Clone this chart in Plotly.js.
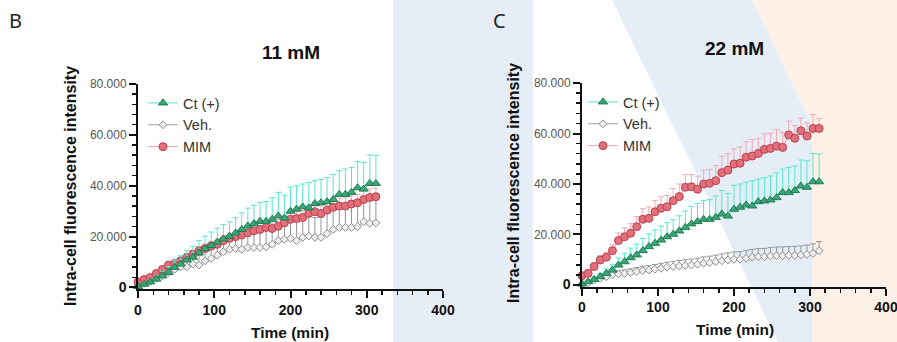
<!DOCTYPE html>
<html>
<head>
<meta charset="utf-8">
<script src="https://cdn.plot.ly/plotly-3.0.1.min.js"></script>
<style>html,body{margin:0;padding:0;background:#fff;}#chart{width:897px;height:342px;}</style>
</head>
<body>
<div id="chart"></div>
<script>
// ---------------- DATA ----------------
const timeMin = [0,8,16,24,32,40,48,56,64,72,80,88,96,104,112,120,128,136,144,152,160,168,176,184,192,200,208,216,224,232,240,248,256,264,272,280,288,296,304,312];

// Ct (+) — same curve shown in both panels
const ctMean = [400,1300,2200,3300,4600,5900,7900,9200,10800,11900,13600,15200,16500,17800,19100,20100,21400,22800,24200,25100,26000,26000,26800,28100,27300,30000,30800,31700,31300,33000,33300,33700,34600,36600,36600,37400,39200,38700,40900,40900];
const ctErr  = [300,600,900,1300,1800,2300,2800,3300,3800,4300,4800,5000,5300,5500,5600,5700,6000,6500,7000,7200,7500,7800,8500,9300,9000,9500,9200,9000,10000,9000,9200,9500,9800,9300,10000,9800,10300,10500,11200,11000];

// Panel B (11 mM)
const vehMeanB = [900,1600,2200,3500,4500,5800,7100,8100,8100,9200,8800,10500,11400,12700,14000,15000,15300,15000,15700,15700,15700,16000,17000,18400,18900,19300,18400,19700,20200,19700,19700,21200,22800,23600,23600,23600,23900,25800,25200,25400];
const vehErrB  = [400,600,900,1300,1700,2100,2500,2800,3200,3500,3800,4000,4300,4600,4900,5200,5500,5800,6000,6300,6500,6700,6900,7000,7200,7300,7500,7600,7700,7800,8000,8100,8300,8400,8600,8800,9000,9200,9300,9500];
const mimMeanB = [2200,3100,3900,5500,7100,8800,9400,10500,11800,13100,14400,15300,16300,17000,18400,19300,20000,20600,21500,22300,22800,23600,23200,24100,25400,26800,27100,27500,29100,29800,29100,30400,31500,32000,32000,32800,33300,34600,35400,35700];
const mimErrB  = [500,700,800,1000,1100,1200,1300,1400,1500,1600,1700,1800,1900,2000,2000,2100,2200,2200,2300,2400,2400,2500,2600,2600,2700,2700,2800,2800,2900,2900,3000,3000,3100,3100,3200,3200,3300,3300,3400,3400];

// Panel C (22 mM)
const vehMeanC = [400,900,2000,2600,3300,4000,4400,4600,4900,5300,5700,5900,6200,6600,7000,7300,7500,7700,7900,8200,8600,8800,9200,9600,9900,10200,10200,10600,11000,11200,11200,11500,11600,11600,11700,11700,11900,12100,12500,13600];
const vehErrC  = [300,500,700,900,1000,1200,1300,1400,1500,1600,1700,1800,1900,2000,2000,2100,2200,2300,2300,2400,2500,2600,2600,2700,2800,2900,3000,3100,3100,3200,3300,3300,3400,3500,3500,3600,3600,3700,3800,3600];
const mimMeanC = [3700,4600,7300,9900,11000,13600,17600,19100,20500,23100,26000,26400,29000,30400,31000,33400,35000,38700,38900,37900,40000,40300,41300,44500,45500,47900,48200,50600,51100,52100,53700,54100,55000,54500,59400,58100,61100,59000,62000,62000];
const mimErrC  = [800,1000,1500,1800,2000,2500,3000,3500,3800,4000,4200,4500,4500,4500,4500,4800,5000,5000,4800,5200,5500,5500,6000,6500,6500,6000,6500,6200,6500,6000,6200,6000,6500,6000,5500,5000,5000,5200,5500,4000];

const seriesNames = ['Ct (+)', 'Veh.', 'MIM'];
const xTickVals = [0,100,200,300,400];
const xTickText = ['0','100','200','300','400'];
const yTickVals = [0,20000,40000,60000,80000];
const yTickText = ['<span style="font-size:14px;color:#111;font-weight:bold">0</span>','20.000','40.000','60.000','80.000'];

// ---------------- STYLE ----------------
const W = 897, H = 342;
const px = x => x / W;
const py = y => 1 - y / H;
const FONT = 'Liberation Sans, Arial, sans-serif';

const styles = {
  ct:  {symbol:'triangle-up', size:8, fill:'#3aa876', edge:'#1f7a52', line:'#55e3c8', err:'#55e8cc'},
  veh: {symbol:'diamond', size:6, fill:'#f0f0f0', edge:'#8c8c8c', line:'#a0a0a0', err:'#959595'},
  mim: {symbol:'circle', size:8, fill:'#e36f7a', edge:'#b6404d', line:'#f2a3ab', err:'#f2aab2'}
};

function trace(name, y, err, st, xa, ya, leg, rank) {
  return {
    type:'scatter', mode:'lines+markers', name:name,
    x: timeMin, y: y,
    xaxis: xa, yaxis: ya, legend: leg, legendrank: rank,
    cliponaxis: false,
    line: {color: st.line, width: 1},
    marker: {symbol: st.symbol, size: st.size, color: st.fill, line: {color: st.edge, width: 1}},
    error_y: {type:'data', symmetric:false, array: err, arrayminus: err.map(() => 0),
              color: st.err, thickness: 1, width: 3}
  };
}

const data = [
  trace(seriesNames[1], vehMeanB, vehErrB, styles.veh, 'x', 'y', 'legend', 2),
  trace(seriesNames[2], mimMeanB, mimErrB, styles.mim, 'x', 'y', 'legend', 3),
  trace(seriesNames[0], ctMean, ctErr, styles.ct, 'x', 'y', 'legend', 1),
  trace(seriesNames[1], vehMeanC, vehErrC, styles.veh, 'x2', 'y2', 'legend2', 2),
  trace(seriesNames[0], ctMean, ctErr, styles.ct, 'x2', 'y2', 'legend2', 1),
  trace(seriesNames[2], mimMeanC, mimErrC, styles.mim, 'x2', 'y2', 'legend2', 3)
];

function xAxis(domain, anchor) {
  return {
    domain: domain, anchor: anchor, range: [0, 400],
    showline: true, linewidth: 2, linecolor: '#111',
    ticks: 'outside', ticklen: 7, tickwidth: 2, tickcolor: '#111',
    tickmode: 'array', tickvals: xTickVals, ticktext: xTickText,
    ticklabeloverflow: 'allow',
    tickfont: {family: FONT, size: 14, color: '#111', weight: 'bold'},
    minor: {dtick: 20, tick0: 0, ticks: 'outside', ticklen: 4, tickwidth: 1.5, tickcolor: '#111', showgrid: false},
    showgrid: false, zeroline: false
  };
}
function yAxis(domain, anchor) {
  return {
    domain: domain, anchor: anchor, range: [-600, 80000],
    showline: true, linewidth: 2, linecolor: '#111',
    ticks: 'outside', ticklen: 7, tickwidth: 2, tickcolor: '#111',
    tickmode: 'array', tickvals: yTickVals, ticktext: yTickText,
    tickfont: {family: FONT, size: 12, color: '#555'},
    minor: {dtick: 4000, tick0: 0, ticks: 'outside', ticklen: 4, tickwidth: 1.5, tickcolor: '#111', showgrid: false},
    showgrid: false, zeroline: false
  };
}

function ann(text, x, y, size, opts) {
  return Object.assign({text: text, x: px(x), y: py(y), xref:'paper', yref:'paper',
    showarrow:false, xanchor:'center', yanchor:'middle',
    font:{family: FONT, size: size, color:'#111'}}, opts || {});
}

const layout = {
  width: W, height: H,
  margin: {l:0, r:0, t:0, b:0},
  paper_bgcolor: '#ffffff', plot_bgcolor: 'rgba(0,0,0,0)',
  showlegend: true,
  xaxis: xAxis([px(138), px(443)], 'y'),
  yaxis: yAxis([py(289), py(84)], 'x'),
  xaxis2: xAxis([px(582), px(886)], 'y2'),
  yaxis2: yAxis([py(286.5), py(83)], 'x2'),
  legend: {x: px(143), y: py(87), xanchor:'left', yanchor:'top', bgcolor:'rgba(0,0,0,0)',
           font:{family: FONT, size:14.5, color:'#333'}, itemwidth: 30, tracegroupgap: 0},
  legend2: {x: px(583), y: py(86), xanchor:'left', yanchor:'top', bgcolor:'rgba(0,0,0,0)',
           font:{family: FONT, size:14.5, color:'#333'}, itemwidth: 30, tracegroupgap: 0},
  shapes: [
    {type:'rect', xref:'paper', yref:'paper', x0: px(393), x1: px(533), y0: 0, y1: 1,
     fillcolor:'#e5eef7', line:{width:0}, layer:'below'},
    {type:'path', xref:'paper', yref:'paper', layer:'below', fillcolor:'#e5eef7', line:{width:0},
     path:`M${px(612)},${py(0)} L${px(752)},${py(0)} L${px(812)},${py(125)} L${px(812)},${py(342)} L${px(778)},${py(342)} Z`},
    {type:'path', xref:'paper', yref:'paper', layer:'below', fillcolor:'#fdf0e6', line:{width:0},
     path:`M${px(752)},${py(0)} L${px(897)},${py(0)} L${px(897)},${py(342)} L${px(812)},${py(342)} L${px(812)},${py(125)} Z`}
  ],
  annotations: [
    ann('B', 15, 20, 20, {font:{family:'Noto Sans, sans-serif', size:20, color:'#222'}}),
    ann('C', 499, 20, 20, {font:{family:'Noto Sans, sans-serif', size:20, color:'#222'}}),
    ann('<b>11 mM</b>', 291, 52, 19),
    ann('<b>22 mM</b>', 734, 48, 19),
    ann('<b>Time (min)</b>', 290, 332, 15.5),
    ann('<b>Time (min)</b>', 735, 329, 15.5),
    ann('<b>Intra-cell fluorescence intensity</b>', 70, 186, 16, {textangle:-90}),
    ann('<b>Intra-cell fluorescence intensity</b>', 513, 183, 16, {textangle:-90})
  ]
};

Plotly.newPlot('chart', data, layout, {displayModeBar:false, staticPlot:true});
</script>
</body>
</html>
